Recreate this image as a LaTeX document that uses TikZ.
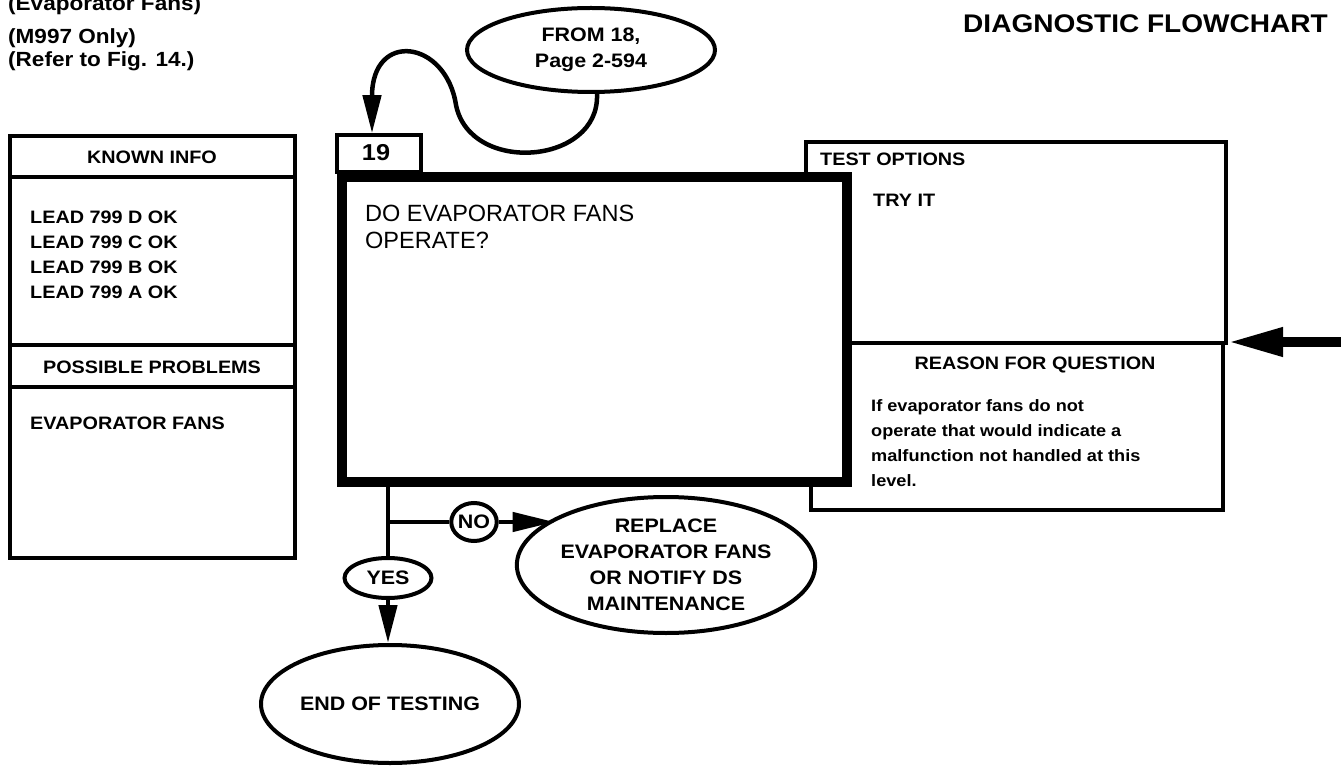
\documentclass[tikz,border=0pt]{standalone}
\usepackage{fontspec}
\newfontfamily\hv{Liberation Sans}[FakeStretch=1.1]
\newfontfamily\hr{Liberation Sans}
\usetikzlibrary{shapes.geometric,arrows.meta}
\begin{document}
\begin{tikzpicture}[x=1pt,y=-1pt,
  thinbox/.style={draw, line width=3.5pt, inner sep=0pt},
  thickbox/.style={draw, line width=10pt, inner sep=0pt, fill=white},
  oval/.style={draw, ellipse, line width=4pt, inner sep=0pt, align=center,
    font=\hv\bfseries\fontsize{19.5}{26}\selectfont},
  lbl/.style={inner sep=0pt, font=\hv\bfseries\fontsize{18}{25}\selectfont},
  reasontxt/.style={inner sep=0pt, align=left, font=\hv\bfseries\fontsize{16.5}{25}\selectfont},
  ttl/.style={inner sep=0pt, font=\hv\bfseries\fontsize{20.5}{23}\selectfont},
  conn/.style={line width=4.5pt},
  bigtip/.style={-{Triangle[length=38pt,width=18pt]}},
  notip/.style={-{Triangle[length=42pt,width=19pt]}},
  divider/.style={line width=3.5pt}
]
\fill[white] (0,0) rectangle (1341,767);
\useasboundingbox (0,0) rectangle (1341,767);

% titles
\node[ttl, anchor=base west] (t1) at (8,11) {(Evaporator Fans)};
\node[ttl, anchor=base west] (t2) at (8,44) {(M997 Only)};
\node[ttl, anchor=base west] (t3) at (8,67) {(Refer to Fig. 14.)};
\node[inner sep=0pt, anchor=base east, font=\hv\bfseries\fontsize{25.5}{30}\selectfont] (diag) at (1328,33) {DIAGNOSTIC FLOWCHART};

% known info box
\node[thinbox, minimum width=285pt, minimum height=422pt] (known) at (152.5,347) {};
\draw[divider] (known.west |- 0,177) -- (known.east |- 0,177);
\draw[divider] (known.west |- 0,345) -- (known.east |- 0,345);
\draw[divider] (known.west |- 0,387) -- (known.east |- 0,387);
\node[lbl] (kh) at (152,157) {KNOWN INFO};
\node[lbl, anchor=west, align=left] (leads) at (30,254.5) {LEAD 799 D OK\\LEAD 799 C OK\\LEAD 799 B OK\\LEAD 799 A OK};
\node[lbl] (ph) at (152,367) {POSSIBLE PROBLEMS};
\node[lbl, anchor=west] (pp) at (30,423) {EVAPORATOR FANS};

% right side boxes
\node[thinbox, minimum width=420pt, minimum height=201pt] (test) at (1016,242.5) {};
\node[thinbox, minimum width=412pt, minimum height=167pt] (reason) at (1017,426.5) {};

% main question box
\node[thickbox, minimum width=505pt, minimum height=305pt] (main) at (594.5,329.5) {};
\node[thinbox, fill=white, minimum width=84pt, minimum height=37pt] (num) at (379,153.5) {};
\node[inner sep=0pt, font=\hv\bfseries\fontsize{23}{26}\selectfont] (numtxt) at (376,153) {19};
\node[inner sep=0pt, anchor=west, align=left, font=\hr\fontsize{23.5}{27}\selectfont] (q) at (365,227) {DO EVAPORATOR FANS\\OPERATE?};

% right side texts
\node[lbl, anchor=west] (th) at (820,159) {TEST OPTIONS};
\node[lbl, anchor=west] (try) at (873,200) {TRY IT};
\node[lbl] (rh) at (1035,365) {REASON FOR QUESTION};
\node[reasontxt, anchor=west] (rt) at (871,443) {If evaporator fans do not\\operate that would indicate a\\malfunction not handled at this\\level.};

% ovals
\node[oval, minimum width=248pt, minimum height=84pt] (from) at (591,50) {FROM 18,\\Page 2-594};
\node[oval, minimum width=44pt, minimum height=38pt] (no) at (474,522) {NO};
\node[oval, minimum width=87pt, minimum height=40pt] (yes) at (388,578) {YES};
\node[oval, minimum width=262pt, minimum height=136pt] (replace) at (666,565) {REPLACE\\EVAPORATOR FANS\\OR NOTIFY DS\\MAINTENANCE};
\node[oval, minimum width=258pt, minimum height=118pt] (end) at (390,704) {END OF TESTING};

% connectors
\draw[conn, bigtip] ([xshift=6pt]from.south) .. controls (600,165) and (470,175) .. (456,105)
   .. controls (446,40) and (372,30) .. ([xshift=-7pt]num.north);
\coordinate (rin) at (1345,342);
\coordinate (junc) at (1228,342);
\draw[line width=10pt, -{Triangle[length=55pt,width=27pt]}] (rin) -- (junc);
\draw[conn] (yes.north |- main.south) -- (yes.north);
\coordinate (br) at (yes.north |- no.west);
\draw[conn] (br) -- (no.west);
\draw[conn, notip] (no.east) -- (no.east -| replace.157);
\draw[conn, bigtip] (yes.south) -- (yes.south |- end.north);
\end{tikzpicture}
\end{document}
